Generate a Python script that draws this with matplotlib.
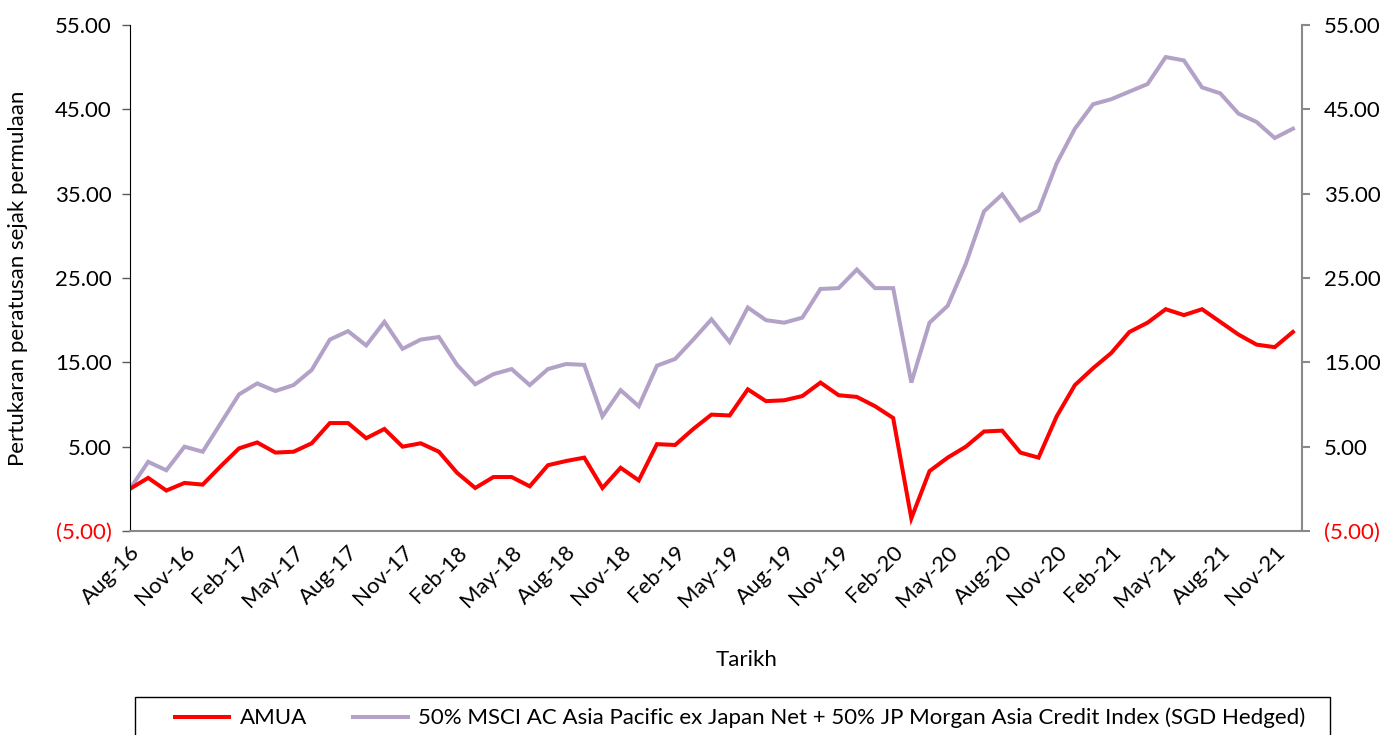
import numpy as np
import pandas as pd
import matplotlib
matplotlib.use('Agg')
import matplotlib.pyplot as plt
from matplotlib.patches import Rectangle

plt.rcParams['font.family'] = ['Lato', 'DejaVu Sans']

# Data bulanan Aug-16 .. Dec-21
bulan = pd.date_range('2016-08-01', periods=65, freq='MS').strftime('%b-%y')

amua = [0.0, 1.3, -0.2, 0.7, 0.5, 2.7, 4.8, 5.5, 4.3, 4.4,
        5.4, 7.8, 7.8, 6.0, 7.1, 5.0, 5.4, 4.4, 1.9, 0.1,
        1.4, 1.4, 0.3, 2.8, 3.3, 3.7, 0.1, 2.5, 1.0, 5.3,
        5.2, 7.1, 8.8, 8.7, 11.8, 10.4, 10.5, 11.0, 12.6, 11.1,
        10.9, 9.8, 8.4, -3.5, 2.1, 3.7, 5.0, 6.8, 6.9, 4.3,
        3.7, 8.6, 12.3, 14.3, 16.1, 18.6, 19.7, 21.3, 20.6, 21.3,
        19.8, 18.3, 17.1, 16.8, 18.6]

penanda_aras = [0.0, 3.2, 2.2, 5.0, 4.4, 7.8, 11.2, 12.5, 11.6, 12.3,
                14.1, 17.7, 18.7, 17.0, 19.8, 16.6, 17.7, 18.0, 14.7, 12.4,
                13.6, 14.2, 12.3, 14.2, 14.8, 14.7, 8.6, 11.7, 9.8, 14.6,
                15.4, 17.7, 20.1, 17.4, 21.5, 20.0, 19.7, 20.3, 23.7, 23.8,
                26.0, 23.8, 23.8, 12.6, 19.7, 21.7, 26.7, 32.9, 34.9, 31.8,
                33.0, 38.6, 42.7, 45.6, 46.2, 47.1, 48.0, 51.2, 50.8, 47.6,
                46.9, 44.5, 43.5, 41.6, 42.7]

yticks = [-5, 5, 15, 25, 35, 45, 55]
ytick_labels = ['(5.00)', '5.00', '15.00', '25.00', '35.00', '45.00', '55.00']

label_amua = 'AMUA'
label_bm = '50% MSCI AC Asia Pacific ex Japan Net + 50% JP Morgan Asia Credit Index (SGD Hedged)'

W, H = 1387, 735
fig = plt.figure(figsize=(W/100, H/100), dpi=100)
ax = fig.add_axes([130/W, 1-531/H, 1172/W, 506/H])

x = np.arange(len(bulan))
l2, = ax.plot(x, penanda_aras, color='#B3A2C7', lw=2.9, label=label_bm, solid_joinstyle='miter')
l1, = ax.plot(x, amua, color='#FF0000', lw=2.9, label=label_amua, solid_joinstyle='miter')

ax.set_xlim(0, 64.5)
ax.set_ylim(-5, 55)
fs = 16

ax.set_yticks(yticks)
ax.set_yticklabels(ytick_labels, fontsize=fs)
ax.get_yticklabels()[0].set_color('#FF0000')
ax.tick_params(axis='y', direction='out', length=6, width=1, color='#595959', pad=7)

ax.set_xticks(x[::3])
ax.set_xticklabels(bulan[::3], rotation=45, ha='right', rotation_mode='anchor', fontsize=fs)
ax.tick_params(axis='x', length=0, pad=8)

ax.spines['top'].set_visible(False)
ax.spines['left'].set_color('#000000')
ax.spines['bottom'].set_color('#898989')
ax.spines['bottom'].set_linewidth(1.5)
ax.spines['right'].set_visible(False)

ax2 = ax.twinx()
ax2.set_ylim(-5, 55)
ax2.set_yticks(yticks)
ax2.set_yticklabels(ytick_labels, fontsize=fs)
ax2.get_yticklabels()[0].set_color('#FF0000')
ax2.tick_params(axis='y', direction='out', length=6, width=1.5, color='#898989', pad=10)
for s in ['top', 'left', 'bottom']:
    ax2.spines[s].set_visible(False)
ax2.spines['right'].set_color('#898989')
ax2.spines['right'].set_linewidth(1.5)

fig.text(18/W, 1-278/H, 'Pertukaran peratusan sejak permulaan', rotation=90,
         ha='center', va='center', fontsize=fs)
fig.text(747/W, 1-660/H, 'Tarikh', ha='center', va='center', fontsize=fs)

# kotak legenda
fig.patches.append(Rectangle((135/W, -0.01), (1330-135)/W, 1-697/H+0.01,
                             transform=fig.transFigure, fill=False, ec='#000000', lw=1))
fig.legend([l1, l2], [label_amua, label_bm], loc='center left',
           bbox_to_anchor=(155/W, 1-718/H), ncol=2, columnspacing=2.1,
           frameon=False, fontsize=fs, handlelength=2.45, handletextpad=0.45)

fig.savefig('out.png', dpi=100)
